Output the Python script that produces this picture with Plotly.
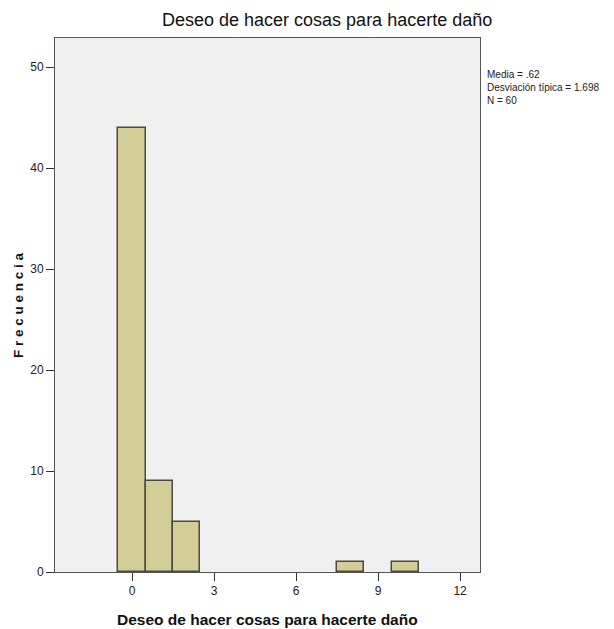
import plotly.graph_objects as go

bin_centers = [0, 1, 2, 8, 10]
counts = [44, 9, 5, 1, 1]
x_ticks = [0, 3, 6, 9, 12]
y_ticks = [0, 10, 20, 30, 40, 50]
title = "Deseo de hacer cosas para hacerte daño"
stats = "Media = .62<br>Desviación típica = 1.698<br>N = 60"

FONT = "Liberation Sans Narrow, Arial Narrow, Liberation Sans, Arial"

fig = go.Figure()
fig.add_trace(go.Bar(
    x=bin_centers, y=counts, width=1,
    marker=dict(color="#D3CE97", line=dict(color="#4a4a40", width=1.5)),
    showlegend=False,
))

fig.update_layout(
    width=614, height=629,
    margin=dict(l=55, r=134, t=38, b=57),
    paper_bgcolor="white", plot_bgcolor="#F0F0F0",
    font=dict(family=FONT, color="#222", size=12),
    bargap=0,
)
fig.update_xaxes(
    range=[-2.82, 12.73], tickvals=x_ticks, ticks="outside", ticklen=8,
    tickcolor="#333", showgrid=False, zeroline=False, showline=True,
    linecolor="#555", linewidth=1, mirror=True,
    tickfont=dict(size=12, family=FONT),
)
fig.update_yaxes(
    range=[0, 52.9], tickvals=y_ticks, ticks="outside", ticklen=8,
    tickcolor="#333", showgrid=False, zeroline=False, showline=True,
    linecolor="#555", linewidth=1, mirror=True,
    tickfont=dict(size=12, family=FONT),
)
fig.add_annotation(
    text=title, xref="paper", yref="paper", x=0.64, y=1, yshift=18,
    showarrow=False, xanchor="center", yanchor="middle",
    font=dict(size=18, family=FONT, color="#111"),
)
fig.add_annotation(
    text="<b>" + title + "</b>", xref="paper", yref="paper", x=0.5, y=0, yshift=-47,
    showarrow=False, xanchor="center", yanchor="middle",
    font=dict(size=15.5, family=FONT, color="#111"),
)
fig.add_annotation(
    text="<b>F r e c u e n c i a</b>", xref="paper", yref="paper", x=0, xshift=-37, y=0.5,
    textangle=-90, showarrow=False, xanchor="center", yanchor="middle",
    font=dict(size=13.5, family="Liberation Sans, Arial", color="#111"),
)
fig.add_annotation(
    text=stats, xref="paper", yref="paper", x=1, xshift=5, y=1, yshift=-29,
    showarrow=False, xanchor="left", yanchor="top", align="left",
    font=dict(size=10, family=FONT, color="#222"),
)
fig.write_html("out.html", config={"displayModeBar": False})

with open("out.html", encoding="utf-8") as f:
    html = f.read()
html = html.replace("<body>", '<body style="margin:0;padding:0">', 1)
with open("out.html", "w", encoding="utf-8") as f:
    f.write(html)
